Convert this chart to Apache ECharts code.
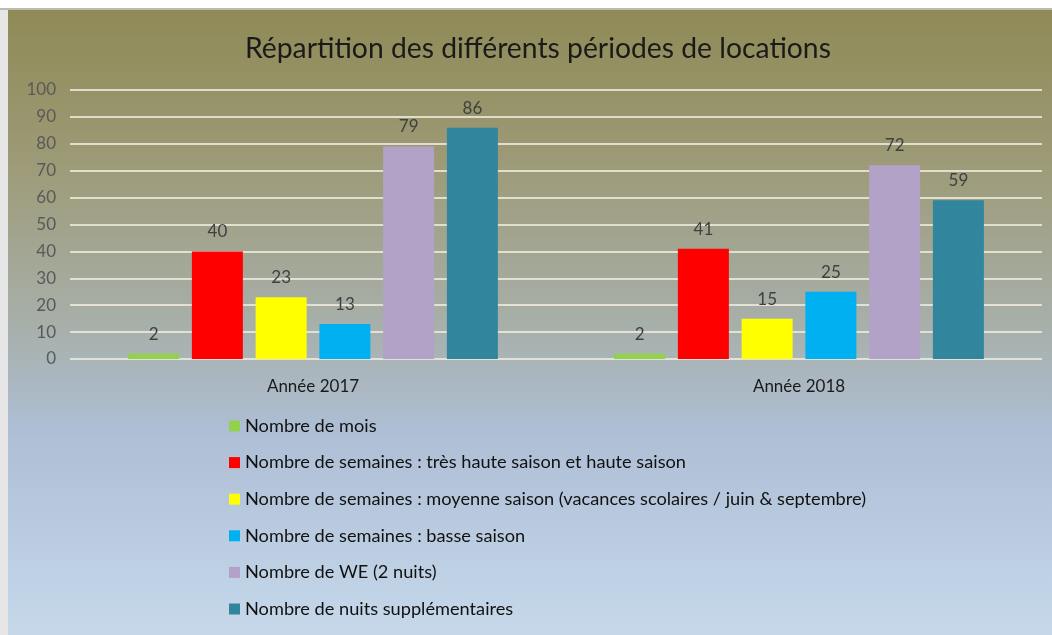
<!DOCTYPE html>
<html>
<head>
<meta charset="utf-8">
<script src="https://cdn.jsdelivr.net/npm/echarts@6/dist/echarts.min.js"></script>
<style>
  html, body { margin: 0; padding: 0; background: #fff; }
  #frame { position: absolute; left: 0; top: 8px; width: 1052px; height: 627px; border-top: 2px solid #bdbab2; background: #e6e6e6; }
  #main { position: absolute; left: 8px; top: 10px; width: 1044px; height: 625px; }
</style>
</head>
<body>
<div id="frame"></div>
<div id="main"></div>
<script>
const categories = ['Année 2017', 'Année 2018'];
const seriesNames = [
  'Nombre de mois',
  'Nombre de semaines : très haute saison et haute saison',
  'Nombre de semaines : moyenne saison (vacances scolaires / juin & septembre)',
  'Nombre de semaines : basse saison',
  'Nombre de WE (2 nuits)',
  'Nombre de nuits supplémentaires',
];
const moisValues = [2, 2];
const hauteSaisonValues = [40, 41];
const moyenneSaisonValues = [23, 15];
const basseSaisonValues = [13, 25];
const weValues = [79, 72];
const nuitsValues = [86, 59];
const yTicks = [0, 10, 20, 30, 40, 50, 60, 70, 80, 90, 100];

const colors = ['#92d050', '#ff0000', '#ffff00', '#00b0f0', '#b3a2c7', '#31859c'];
const allValues = [moisValues, hauteSaisonValues, moyenneSaisonValues, basseSaisonValues, weValues, nuitsValues];

const myChart = echarts.init(document.getElementById('main'));

const labelOption = {
  show: true,
  position: 'top',
  distance: 11,
  fontFamily: 'Lato',
  fontSize: 17,
  color: '#404040',
};

const mySeries = seriesNames.map((name, i) => ({
  name: name,
  type: 'bar',
  barWidth: 51,
  barGap: '25%',
  label: labelOption,
  itemStyle: { color: colors[i] },
  data: allValues[i],
}));

myChart.setOption({
  backgroundColor: new echarts.graphic.LinearGradient(0, 0, 0, 1, [
    { offset: 0, color: '#8f8a56' },
    { offset: 0.25, color: '#9d9b78' },
    { offset: 0.5, color: '#a7afa9' },
    { offset: 0.68, color: '#aebfd6' },
    { offset: 1, color: '#c6d8ea' },
  ]),
  color: colors,
  animation: false,
  title: {
    text: 'Répartition des différents périodes de locations',
    left: 232,
    top: 20,
    textStyle: {
      fontFamily: 'Lato',
      fontSize: 28.3,
      fontWeight: 'normal',
      color: '#1a1a1a',
    },
  },
  legend: {
    orient: 'vertical',
    left: 221,
    top: 407,
    padding: 0,
    itemWidth: 11,
    itemHeight: 11,
    itemGap: 18.6,
    icon: 'rect',
    textStyle: {
      fontFamily: 'Lato',
      fontSize: 18.2,
      color: '#111',
    },
  },
  grid: {
    left: 62,
    right: 10,
    top: 80,
    height: 269,
    containLabel: false,
  },
  xAxis: {
    type: 'category',
    data: categories,
    axisLine: { show: false },
    axisTick: { show: false },
    axisLabel: {
      fontFamily: 'Lato',
      fontSize: 17,
      color: '#1a1a1a',
      margin: 19,
    },
  },
  yAxis: {
    type: 'value',
    min: yTicks[0],
    max: yTicks[yTicks.length - 1],
    interval: yTicks[1] - yTicks[0],
    axisLabel: {
      fontFamily: 'Lato',
      fontSize: 17,
      color: '#595959',
      margin: 14,
    },
    splitLine: {
      lineStyle: { color: 'rgba(236,234,220,0.85)', width: 2 },
    },
  },
  series: mySeries,
});
</script>
</body>
</html>
